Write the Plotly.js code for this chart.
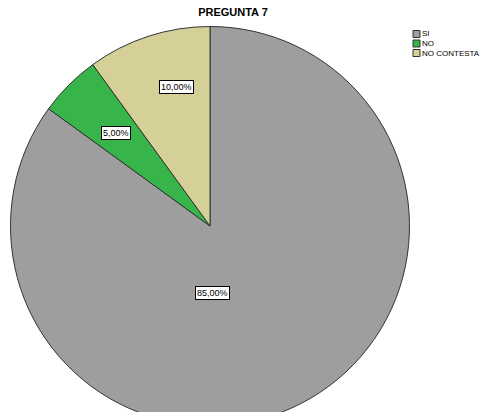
<!DOCTYPE html>
<html>
<head>
<meta charset="utf-8">
<script src="https://cdn.plot.ly/plotly-3.0.1.min.js"></script>
<style>
html,body{margin:0;padding:0;overflow:hidden;background:#fff;}
#chart{width:486px;height:430px;}
</style>
</head>
<body>
<div id="chart"></div>
<script>
const categories = ['SI', 'NO', 'NO CONTESTA'];
const values = [85, 5, 10];
const sliceColors = ['#9e9e9e', '#38b54a', '#d5cf98'];
const chartTitle = 'PREGUNTA 7';

const W = 486, H = 430;
const cx = 210, cy = 226, R = 199.5;
// label box offsets from pie center (px)
const labelOffsets = [[2, 67], [-94, -93], [-34, -139]];
// legend placement (px)
const legX = 413, legY0 = 34, legStep = 9.5, legBox = 7;

const FONT = 'Liberation Sans, Arial, sans-serif';
const total = values.reduce((a, b) => a + b, 0);
const fmt = v => (v / total * 100).toFixed(2).replace('.', ',') + '%';
const px = x => x / W;
const py = y => 1 - y / H;

const annotations = values.map((v, i) => ({
  xref: 'paper', yref: 'paper',
  x: px(cx + labelOffsets[i][0]),
  y: py(cy + labelOffsets[i][1]),
  xanchor: 'center', yanchor: 'middle',
  text: fmt(v),
  showarrow: false,
  bgcolor: '#ffffff',
  bordercolor: '#000000',
  borderwidth: 1,
  borderpad: 1,
  font: {family: FONT, size: 9, color: '#000'}
}));

const shapes = [];
categories.forEach((c, i) => {
  const yc = legY0 + i * legStep;
  shapes.push({
    type: 'rect', xref: 'paper', yref: 'paper',
    x0: px(legX), x1: px(legX + legBox),
    y0: py(yc - legBox / 2), y1: py(yc + legBox / 2),
    fillcolor: sliceColors[i],
    line: {color: '#333333', width: 1}
  });
  annotations.push({
    xref: 'paper', yref: 'paper',
    x: px(legX + legBox + 1), y: py(yc),
    xanchor: 'left', yanchor: 'middle',
    text: c, showarrow: false,
    borderpad: 0,
    font: {family: FONT, size: 8, color: '#000'}
  });
});

const data = [{
  type: 'pie',
  labels: categories,
  values: values,
  sort: false,
  direction: 'clockwise',
  rotation: 0,
  textinfo: 'none',
  hoverinfo: 'label+percent',
  marker: {colors: sliceColors, line: {color: '#333333', width: 1}},
  domain: {x: [px(cx - R), px(cx + R)], y: [py(cy + R), py(cy - R)]}
}];

const layout = {
  width: W, height: H,
  margin: {l: 0, r: 0, t: 0, b: 0},
  paper_bgcolor: '#ffffff',
  title: {
    text: '<b>' + chartTitle + '</b>',
    x: px(233), xanchor: 'center',
    y: py(12), yanchor: 'middle',
    font: {family: FONT, size: 11, color: '#000'}
  },
  showlegend: false,
  shapes: shapes,
  annotations: annotations
};

Plotly.newPlot('chart', data, layout, {displayModeBar: false, staticPlot: true});
</script>
</body>
</html>
